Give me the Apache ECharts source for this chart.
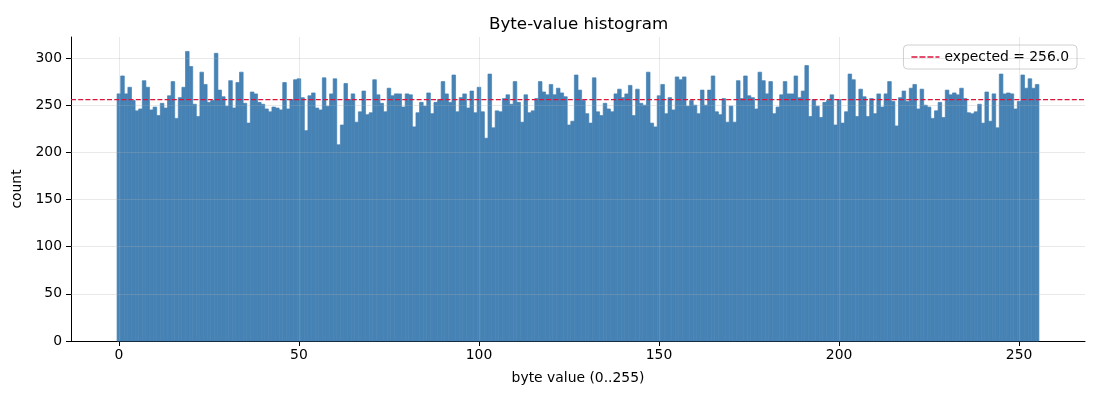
<!DOCTYPE html>
<html>
<head>
<meta charset="utf-8">
<script src="https://cdn.jsdelivr.net/npm/echarts@6/dist/echarts.min.js"></script>
<style>html,body{margin:0;padding:0;background:#fff;}#c{width:1100px;height:400px;}</style>
</head>
<body>
<div id="c"></div>
<script>
const counts = [
262,281,262,269,255,244,246,276,269,245,248,239,252,247,260,275,
236,258,269,307,291,251,238,285,272,253,255,305,266,259,249,276,
247,274,285,252,231,264,262,253,251,246,243,248,247,245,274,246,
256,277,278,258,223,260,263,247,245,279,249,262,278,208,229,273,
256,262,232,243,265,240,242,277,261,252,243,268,260,262,262,248,
262,261,227,242,253,249,263,241,253,256,275,262,253,282,243,258,
262,247,265,242,269,243,215,283,226,244,243,257,261,251,275,253,
232,261,242,244,257,275,264,261,272,261,268,263,259,229,233,282,
266,255,241,231,279,243,239,252,246,243,262,267,258,262,271,239,
267,252,250,285,231,227,260,272,241,258,245,280,277,280,249,255,
250,241,266,250,266,281,243,240,257,232,249,232,276,257,281,260,
258,246,285,276,262,275,241,248,261,275,262,262,281,258,265,292,
238,256,249,237,253,255,261,229,256,231,243,283,277,238,267,259,
238,257,241,262,248,262,275,254,228,258,265,254,268,272,246,267,
250,248,236,244,253,237,266,261,263,261,268,257,242,241,243,251,
231,264,233,262,226,283,262,263,262,246,254,282,268,278,268,272
];
const byteValues = counts.map((_, i) => i);
const expectedCount = 256.0;
const xTicks = [0, 50, 100, 150, 200, 250];
const yTicks = [0, 50, 100, 150, 200, 250, 300];

const xMin = -13.3, xMax = 268.3, yMax = 322.3;
const FONT = 'DejaVu Sans';
const RED = 'rgb(220,20,60)';
const chart = echarts.init(document.getElementById('c'), null, {renderer: 'canvas'});

const gridMarks = yTicks.filter(v => v > 0).map(v => ({yAxis: v}))
  .concat(xTicks.map(v => ({xAxis: v})));

const dashIcon = 'path://M0,0h6v1.5h-6z M8,0h6v1.5h-6z M16,0h6v1.5h-6z M24,0h4v1.5h-4z';

chart.setOption({
  animation: false,
  backgroundColor: '#fff',
  title: {
    text: 'Byte-value histogram',
    left: 484, top: 11,
    textStyle: {fontFamily: FONT, fontSize: 16.7, fontWeight: 'normal', color: '#000'}
  },
  legend: {
    right: 23, top: 45,
    orient: 'vertical',
    backgroundColor: 'rgba(255,255,255,0.8)',
    borderColor: '#d0d0d0', borderWidth: 1, borderRadius: 4,
    padding: [5, 8, 5, 8],
    itemWidth: 28, itemHeight: 1.5, itemGap: 6,
    textStyle: {fontFamily: FONT, fontSize: 13.9, color: '#000'},
    data: [{name: 'expected = 256.0', icon: dashIcon, itemStyle: {color: RED}}]
  },
  grid: {left: 71, right: 15, top: 37, bottom: 59},
  xAxis: {
    type: 'value', min: xMin, max: xMax,
    name: 'byte value (0..255)', nameLocation: 'middle', nameGap: 30,
    nameTextStyle: {fontFamily: FONT, fontSize: 13.9, color: '#000'},
    axisLine: {onZero: false, lineStyle: {color: '#000', width: 1}},
    axisTick: {show: true, length: 5, lineStyle: {color: '#000'}, customValues: xTicks},
    axisLabel: {fontFamily: FONT, fontSize: 13.9, color: '#000', margin: 7, customValues: xTicks},
    splitLine: {show: false}
  },
  yAxis: {
    type: 'value', min: 0, max: yMax,
    name: 'count', nameLocation: 'middle', nameGap: 43,
    nameTextStyle: {fontFamily: FONT, fontSize: 13.9, color: '#000'},
    axisLine: {show: true, onZero: false, lineStyle: {color: '#000', width: 1}},
    axisTick: {show: true, length: 5, lineStyle: {color: '#000'}, customValues: yTicks},
    axisLabel: {fontFamily: FONT, fontSize: 13.9, color: '#000', margin: 9, customValues: yTicks},
    splitLine: {show: false}
  },
  series: [
    {
      type: 'custom',
      name: 'hist',
      z: 2,
      data: byteValues.map((b, i) => [b, counts[i]]),
      renderItem: function (params, api) {
        const x = api.value(0), y = api.value(1);
        const p0 = api.coord([x - 0.5, y]);
        const p1 = api.coord([x + 0.5, 0]);
        return {
          type: 'rect',
          shape: {x: p0[0], y: p0[1], width: p1[0] - p0[0], height: p1[1] - p0[1]},
          style: {fill: '#4682b4', stroke: '#4682b4', lineWidth: 0.7}
        };
      },
      markLine: {
        silent: true, symbol: 'none', animation: false,
        label: {show: false},
        lineStyle: {color: '#b0b0b0', opacity: 0.35, width: 0.8, type: 'solid'},
        data: gridMarks
      }
    },
    {
      type: 'custom',
      name: 'expected = 256.0',
      z: 5,
      silent: true,
      color: RED,
      data: [[xMin, expectedCount, xMax]],
      renderItem: function (params, api) {
        const a = api.coord([api.value(0), api.value(1)]);
        const b = api.coord([api.value(2), api.value(1)]);
        return {
          type: 'line',
          shape: {x1: a[0], y1: a[1], x2: b[0], y2: b[1]},
          style: {stroke: RED, lineWidth: 1.2, lineDash: [5, 2.2], fill: null}
        };
      }
    }
  ]
});
</script>
</body>
</html>
